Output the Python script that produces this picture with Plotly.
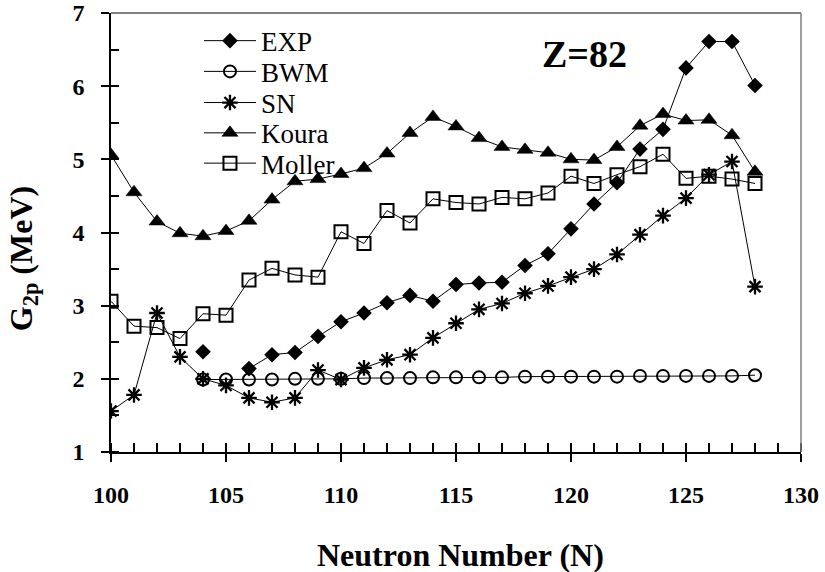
import plotly.graph_objects as go

neutrons = list(range(100, 129))

exp_vals = [None, None, None, None, 2.37, None, 2.14, 2.33, 2.36, 2.58, 2.78, 2.90, 3.04, 3.14, 3.06,
            3.29, 3.31, 3.32, 3.55, 3.71, 4.05, 4.39, 4.68, 5.14, 5.41, 6.25, 6.61, 6.61, 6.01]
bwm_vals = [None, None, None, None, 1.99, 1.99, 1.99, 1.99, 2.00, 2.00, 2.00, 2.01, 2.01, 2.01, 2.02,
            2.02, 2.02, 2.02, 2.03, 2.03, 2.03, 2.03, 2.03, 2.04, 2.04, 2.04, 2.04, 2.04, 2.05]
sn_vals = [1.56, 1.78, 2.90, 2.30, 2.00, 1.91, 1.74, 1.68, 1.74, 2.12, 1.99, 2.15, 2.26, 2.33, 2.56,
           2.76, 2.95, 3.03, 3.17, 3.27, 3.39, 3.50, 3.70, 3.97, 4.23, 4.47, 4.79, 4.97, 3.26]
koura_vals = [5.06, 4.55, 4.15, 3.99, 3.95, 4.02, 4.16, 4.45, 4.70, 4.73, 4.80, 4.88, 5.08, 5.36, 5.58,
              5.45, 5.29, 5.17, 5.13, 5.09, 5.00, 4.99, 5.17, 5.46, 5.62, 5.53, 5.54, 5.33, 4.83]
moller_vals = [3.06, 2.72, 2.70, 2.55, 2.89, 2.87, 3.35, 3.51, 3.42, 3.39, 4.01, 3.85, 4.30, 4.13, 4.46,
               4.41, 4.39, 4.48, 4.46, 4.54, 4.77, 4.67, 4.79, 4.90, 5.07, 4.74, 4.77, 4.73, 4.67]

series = [
    ("EXP", exp_vals, "diamond", 12, 0),
    ("BWM", bwm_vals, "circle-open", 12, 2),
    ("SN", sn_vals, "asterisk-open", 13, 2.3),
    ("Koura", koura_vals, "triangle-up", 14, 0.5),
    ("Moller", moller_vals, "square-open", 13, 2),
]
legend_rows = [0.936, 0.866, 0.795, 0.726, 0.657]

SERIF = "Liberation Serif"
TICKFONT = "Times New Roman"

fig = go.Figure()
legends = {}
for i, (name, vals, sym, size, lw) in enumerate(series):
    lg = "legend" if i == 0 else f"legend{i + 1}"
    fig.add_trace(go.Scatter(
        x=neutrons, y=vals, name=name, mode="lines+markers",
        connectgaps=False, legend=lg,
        line=dict(color="black", width=1),
        marker=dict(symbol=sym, size=size, color="black",
                    line=dict(color="black", width=lw)),
    ))
    legends[lg] = dict(x=0.1275, y=legend_rows[i], xanchor="left", yanchor="middle",
                       font=dict(family=SERIF, size=27, color="black"),
                       bgcolor="rgba(0,0,0,0)", itemwidth=52)

# invisible helper trace so the overlay tick axes are drawn
fig.add_trace(go.Scatter(x=[None], y=[None], xaxis="x2", yaxis="y2",
                         showlegend=False, hoverinfo="skip", mode="markers"))

fig.update_layout(
    width=825, height=572,
    margin=dict(l=111, r=24, t=13, b=120),
    paper_bgcolor="white", plot_bgcolor="white",
    showlegend=True,
    **legends,
    xaxis=dict(range=[100, 130], dtick=5, tick0=100, ticks="outside", ticklen=8,
               tickwidth=1.5, tickcolor="black", automargin=False,
               minor=dict(ticks="inside", dtick=1, ticklen=9, tickwidth=1.5, tickcolor="black"),
               showline=True, linecolor="black", linewidth=1.5,
               showgrid=False, zeroline=False,
               tickfont=dict(family=TICKFONT, size=24, color="black", weight="bold"),
               ticklabelstandoff=12),
    yaxis=dict(range=[1, 7], dtick=1, tick0=1, ticks="outside", ticklen=8,
               tickwidth=1.5, tickcolor="black", automargin=False,
               minor=dict(ticks="inside", dtick=0.5, ticklen=8, tickwidth=1.5, tickcolor="black"),
               showline=True, linecolor="black", linewidth=1.5,
               showgrid=False, zeroline=False,
               tickfont=dict(family=TICKFONT, size=24, color="black", weight="bold"),
               ticklabelstandoff=12),
    xaxis2=dict(overlaying="x", anchor="y", range=[100, 130], dtick=5, tick0=100,
                ticks="inside", ticklen=9, tickwidth=1.5, tickcolor="black", automargin=False,
                showticklabels=False, showgrid=False, zeroline=False, showline=False),
    yaxis2=dict(overlaying="y", anchor="x", range=[1, 7], dtick=1, tick0=1,
                ticks="inside", ticklen=8, tickwidth=1.5, tickcolor="black", automargin=False,
                showticklabels=False, showgrid=False, zeroline=False, showline=False),
    annotations=[
        dict(text="Z=82", x=120.57, y=6.44, xref="x", yref="y", showarrow=False,
             font=dict(family=SERIF, size=38, color="black", weight="bold")),
        dict(text="Neutron Number (N)", x=0.507, y=-0.2336, xref="paper", yref="paper",
             xanchor="center", yanchor="middle", showarrow=False,
             font=dict(family=SERIF, size=32, color="black", weight="bold")),
        dict(text="G<sub>2p</sub> (MeV)", x=-0.127, y=0.44, xref="paper", yref="paper",
             xanchor="center", yanchor="middle", showarrow=False, textangle=-90,
             font=dict(family=SERIF, size=32, color="black", weight="bold")),
    ],
    shapes=[
        dict(type="line", xref="x domain", yref="y domain", x0=0, x1=1, y0=1, y1=1,
             line=dict(color="#808080", width=2)),
        dict(type="line", xref="x domain", yref="y domain", x0=1, x1=1, y0=0, y1=1,
             line=dict(color="#808080", width=1.5)),
    ],
)

fig.write_html("out.html", config={"displayModeBar": False},
               post_script="document.body.style.margin='0';")
